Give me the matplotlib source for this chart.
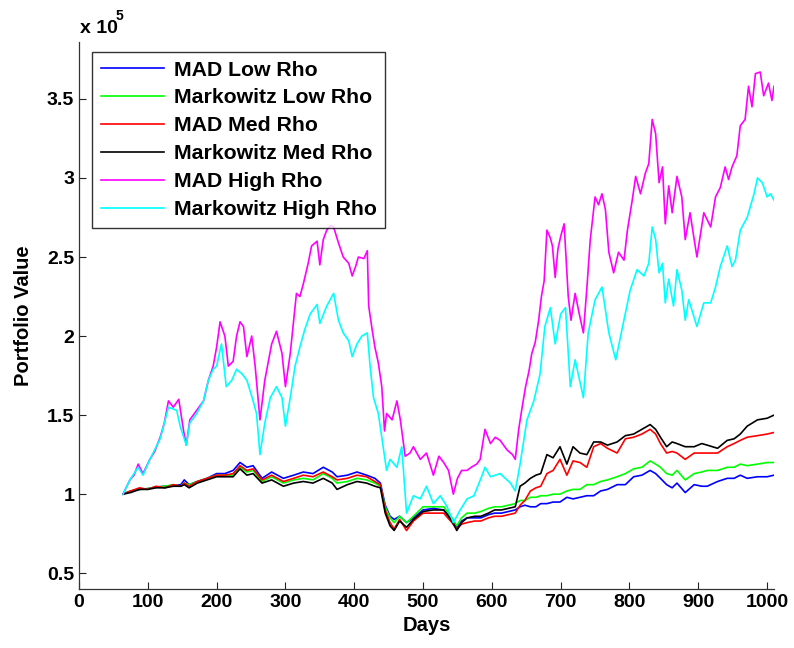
import matplotlib
matplotlib.use("Agg")
import matplotlib.pyplot as plt

# values in units of 1e5
days_low = [64, 75, 88, 100, 112, 125, 137, 148, 153, 160, 172, 186, 200, 212, 224, 234, 244, 253,
            266, 280, 297, 312, 326, 340, 355, 368, 375, 390, 404, 418, 430, 438, 445, 452, 458, 466,
            476, 486, 500, 515, 530, 542, 549, 556, 564, 575, 584, 595, 604, 614, 624, 634, 641, 648,
            656, 664, 671, 680, 689, 699, 709, 718, 728, 738, 748, 758, 768, 782, 794, 806, 818, 830,
            838, 845, 854, 862, 869, 881, 894, 905, 913, 928, 942, 952, 961, 971, 986, 1000, 1010]

mad_low = [1.00, 1.02, 1.03, 1.035, 1.045, 1.05, 1.055, 1.06, 1.09, 1.06, 1.08, 1.10, 1.13, 1.13, 1.15,
           1.20, 1.17, 1.18, 1.10, 1.14, 1.10, 1.12, 1.14, 1.13, 1.17, 1.14, 1.11, 1.12, 1.14, 1.12,
           1.10, 1.07, 0.93, 0.86, 0.84, 0.86, 0.82, 0.85, 0.90, 0.91, 0.90, 0.84, 0.79, 0.83, 0.85,
           0.85, 0.85, 0.87, 0.88, 0.88, 0.89, 0.90, 0.92, 0.93, 0.92, 0.92, 0.94, 0.94, 0.95, 0.95,
           0.98, 0.97, 0.98, 0.99, 0.99, 1.02, 1.03, 1.06, 1.06, 1.11, 1.12, 1.15, 1.13, 1.10, 1.06,
           1.04, 1.07, 1.01, 1.06, 1.05, 1.05, 1.08, 1.10, 1.10, 1.12, 1.10, 1.11, 1.11, 1.12]

mkw_low = [1.00, 1.02, 1.03, 1.035, 1.045, 1.05, 1.06, 1.05, 1.07, 1.06, 1.08, 1.10, 1.12, 1.12, 1.12,
           1.17, 1.14, 1.15, 1.08, 1.11, 1.07, 1.09, 1.10, 1.09, 1.13, 1.10, 1.07, 1.08, 1.10, 1.09,
           1.07, 1.05, 0.92, 0.85, 0.82, 0.86, 0.82, 0.86, 0.92, 0.92, 0.92, 0.85, 0.80, 0.85, 0.88,
           0.88, 0.89, 0.91, 0.92, 0.92, 0.93, 0.94, 0.96, 0.96, 0.98, 0.98, 0.99, 0.99, 1.00, 1.00,
           1.02, 1.03, 1.03, 1.06, 1.06, 1.08, 1.09, 1.11, 1.13, 1.16, 1.17, 1.21, 1.19, 1.17, 1.13,
           1.12, 1.15, 1.09, 1.13, 1.14, 1.15, 1.15, 1.17, 1.17, 1.19, 1.18, 1.19, 1.20, 1.20]

mad_med = [1.00, 1.02, 1.04, 1.03, 1.05, 1.04, 1.06, 1.05, 1.07, 1.05, 1.08, 1.10, 1.12, 1.12, 1.13,
           1.18, 1.15, 1.16, 1.09, 1.12, 1.08, 1.10, 1.12, 1.11, 1.14, 1.11, 1.09, 1.10, 1.12, 1.11,
           1.08, 1.06, 0.90, 0.82, 0.78, 0.84, 0.77, 0.83, 0.88, 0.88, 0.88, 0.82, 0.78, 0.81, 0.82,
           0.83, 0.83, 0.85, 0.86, 0.86, 0.87, 0.88, 0.93, 0.96, 1.02, 1.04, 1.05, 1.13, 1.15, 1.22,
           1.12, 1.21, 1.20, 1.17, 1.30, 1.32, 1.29, 1.26, 1.35, 1.36, 1.38, 1.41, 1.38, 1.32, 1.26,
           1.27, 1.26, 1.22, 1.26, 1.26, 1.26, 1.26, 1.30, 1.32, 1.34, 1.36, 1.37, 1.38, 1.39]

mkw_med = [1.00, 1.01, 1.03, 1.03, 1.04, 1.04, 1.05, 1.05, 1.06, 1.04, 1.07, 1.09, 1.11, 1.11, 1.11,
           1.16, 1.12, 1.13, 1.07, 1.09, 1.05, 1.07, 1.08, 1.07, 1.10, 1.07, 1.03, 1.06, 1.08, 1.07,
           1.05, 1.04, 0.88, 0.80, 0.77, 0.83, 0.79, 0.84, 0.89, 0.90, 0.90, 0.83, 0.77, 0.82, 0.85,
           0.86, 0.86, 0.88, 0.90, 0.90, 0.91, 0.92, 1.05, 1.07, 1.10, 1.12, 1.13, 1.25, 1.23, 1.30,
           1.19, 1.30, 1.26, 1.25, 1.33, 1.33, 1.31, 1.33, 1.37, 1.38, 1.41, 1.44, 1.41, 1.36, 1.30,
           1.33, 1.32, 1.30, 1.30, 1.32, 1.31, 1.29, 1.34, 1.35, 1.38, 1.43, 1.47, 1.48, 1.50]

days_mad_high = [64, 74, 80, 86, 93, 103, 110, 118, 124, 130, 137, 145, 152, 156, 161, 171, 181, 188,
                 195, 200, 205, 212, 217, 224, 229, 234, 239, 244, 251, 256, 263, 270, 280, 287, 295,
                 300, 307, 312, 316, 321, 326, 333, 338, 346, 350, 355, 360, 366, 370, 377, 384, 392,
                 397, 402, 406, 414, 419, 421, 426, 430, 435, 440, 444, 447, 455, 462, 467, 474, 481,
                 486, 496, 505, 515, 523, 530, 537, 544, 550, 556, 564, 570, 578, 583, 590, 598, 605,
                 612, 622, 630, 634, 639, 644, 649, 654, 658, 663, 668, 672, 676, 680, 685, 688, 692,
                 696, 700, 705, 711, 715, 721, 727, 733, 738, 743, 750, 755, 760, 765, 770, 777, 784,
                 792, 797, 804, 809, 816, 823, 828, 833, 838, 843, 848, 852, 857, 862, 869, 876, 881,
                 888, 898, 908, 918, 925, 932, 939, 944, 949, 956, 961, 968, 973, 978, 983, 990, 995,
                 1002, 1007, 1010]

mad_high = [1.00, 1.09, 1.12, 1.19, 1.13, 1.22, 1.27, 1.36, 1.45, 1.59, 1.55, 1.60, 1.40, 1.31, 1.47,
            1.53, 1.59, 1.72, 1.81, 1.93, 2.09, 2.00, 1.81, 1.84, 2.00, 2.09, 2.06, 1.87, 2.00, 1.81,
            1.47, 1.72, 1.95, 2.03, 1.89, 1.68, 1.89, 2.10, 2.27, 2.25, 2.33, 2.46, 2.57, 2.60, 2.45,
            2.61, 2.67, 2.70, 2.69, 2.59, 2.50, 2.46, 2.38, 2.44, 2.50, 2.49, 2.54, 2.19, 2.04, 1.93,
            1.83, 1.68, 1.40, 1.51, 1.47, 1.59, 1.47, 1.24, 1.26, 1.30, 1.22, 1.26, 1.12, 1.24, 1.20,
            1.15, 1.00, 1.10, 1.15, 1.15, 1.17, 1.19, 1.22, 1.41, 1.32, 1.36, 1.34, 1.28, 1.25, 1.22,
            1.41, 1.55, 1.68, 1.78, 1.89, 1.96, 2.10, 2.25, 2.35, 2.67, 2.62, 2.57, 2.37, 2.55, 2.63,
            2.71, 2.25, 2.10, 2.27, 2.14, 2.02, 2.30, 2.61, 2.88, 2.83, 2.90, 2.80, 2.53, 2.40, 2.53,
            2.48, 2.67, 2.86, 3.01, 2.90, 3.03, 3.09, 3.37, 3.28, 2.97, 3.07, 2.71, 2.95, 2.78, 3.01,
            2.88, 2.61, 2.78, 2.50, 2.78, 2.69, 2.88, 2.94, 3.07, 2.99, 3.07, 3.14, 3.33, 3.37, 3.58,
            3.45, 3.66, 3.67, 3.52, 3.60, 3.49, 3.58]

days_mkw_high = [64, 74, 86, 93, 103, 118, 130, 142, 147, 156, 161, 171, 181, 188, 195, 200, 207, 214,
                 222, 229, 237, 244, 253, 258, 263, 270, 278, 287, 295, 300, 307, 314, 321, 328, 336,
                 346, 350, 360, 370, 377, 384, 392, 397, 404, 411, 419, 423, 428, 435, 442, 447, 452,
                 462, 469, 476, 486, 496, 505, 515, 525, 535, 544, 554, 564, 574, 585, 590, 598, 612,
                 627, 634, 641, 651, 661, 670, 677, 685, 692, 700, 707, 714, 721, 733, 740, 750, 760,
                 770, 780, 789, 801, 811, 821, 828, 833, 838, 843, 848, 852, 857, 864, 869, 876, 881,
                 886, 898, 908, 918, 925, 932, 942, 949, 954, 961, 971, 981, 986, 993, 1000, 1005, 1010]

mkw_high = [1.00, 1.09, 1.17, 1.12, 1.22, 1.35, 1.55, 1.53, 1.43, 1.31, 1.45, 1.51, 1.59, 1.72, 1.79,
            1.81, 1.95, 1.68, 1.72, 1.79, 1.76, 1.72, 1.59, 1.51, 1.25, 1.45, 1.61, 1.68, 1.61, 1.43,
            1.61, 1.81, 1.93, 2.04, 2.14, 2.20, 2.08, 2.19, 2.27, 2.10, 2.02, 1.97, 1.87, 1.95, 2.00,
            2.02, 1.81, 1.61, 1.51, 1.30, 1.15, 1.22, 1.17, 1.30, 0.88, 0.99, 0.97, 1.05, 0.94, 0.99,
            0.92, 0.82, 0.90, 0.97, 0.99, 1.11, 1.17, 1.11, 1.13, 1.07, 1.02, 1.19, 1.47, 1.59, 1.76,
            2.06, 2.18, 1.95, 2.14, 2.18, 1.68, 1.85, 1.61, 2.02, 2.23, 2.31, 2.02, 1.85, 2.04, 2.29,
            2.42, 2.38, 2.46, 2.69, 2.61, 2.40, 2.46, 2.21, 2.36, 2.19, 2.42, 2.29, 2.10, 2.23, 2.06,
            2.21, 2.21, 2.31, 2.44, 2.57, 2.44, 2.48, 2.67, 2.75, 2.90, 3.00, 2.97, 2.88, 2.90, 2.86]

labels = ["MAD Low Rho", "Markowitz Low Rho", "MAD Med Rho",
          "Markowitz Med Rho", "MAD High Rho", "Markowitz High Rho"]
colors = ["#0000ff", "#00ff00", "#ff0000", "#000000", "#ff00ff", "#00ffff"]
series = [(days_low, mad_low), (days_low, mkw_low), (days_low, mad_med),
          (days_low, mkw_med), (days_mad_high, mad_high), (days_mkw_high, mkw_high)]

plt.rcParams["font.family"] = ["Liberation Sans", "DejaVu Sans"]
plt.rcParams["font.weight"] = "bold"

fig = plt.figure(figsize=(7.94, 6.48), dpi=100)
ax = fig.add_axes([79 / 794, 59 / 648, 695 / 794, 547 / 648])

for (x, y), lab, c in zip(series, labels, colors):
    ax.plot(x, y, color=c, lw=1.2, label=lab)

ax.set_xlim(0, 1010)
ax.set_ylim(0.4, 3.86)
ax.set_xticks(range(0, 1001, 100))
ax.set_yticks([0.5, 1, 1.5, 2, 2.5, 3, 3.5])
ax.set_yticklabels(["0.5", "1", "1.5", "2", "2.5", "3", "3.5"])
ax.tick_params(direction="in", length=5, width=0.8, labelsize=14, colors="#222222")
for lab in ax.get_xticklabels() + ax.get_yticklabels():
    lab.set_fontweight("bold")
    lab.set_color("black")
ax.spines["top"].set_visible(False)
ax.spines["right"].set_visible(False)
for s in ("left", "bottom"):
    ax.spines[s].set_color("#333333")
    ax.spines[s].set_linewidth(0.9)

ax.set_xlabel("Days", fontsize=14.5, fontweight="bold", labelpad=4)
ax.set_ylabel("Portfolio Value", fontsize=14.5, fontweight="bold", labelpad=10)

fig.text(80 / 794, 1 - 33 / 648, "x 10", fontsize=14, fontweight="bold", ha="left", va="baseline")
fig.text(116 / 794, 1 - 20 / 648, "5", fontsize=10, fontweight="bold", ha="left", va="baseline")

leg = ax.legend(loc="upper left", bbox_to_anchor=(13 / 695, 537 / 547), borderaxespad=0,
                frameon=True, fancybox=False, handlelength=3.0, handletextpad=0.45,
                labelspacing=0.42, borderpad=0.4, prop={"weight": "bold", "size": 15.3})
leg.get_frame().set_edgecolor("black")
leg.get_frame().set_linewidth(1.0)

fig.savefig("out.png", dpi=100)
